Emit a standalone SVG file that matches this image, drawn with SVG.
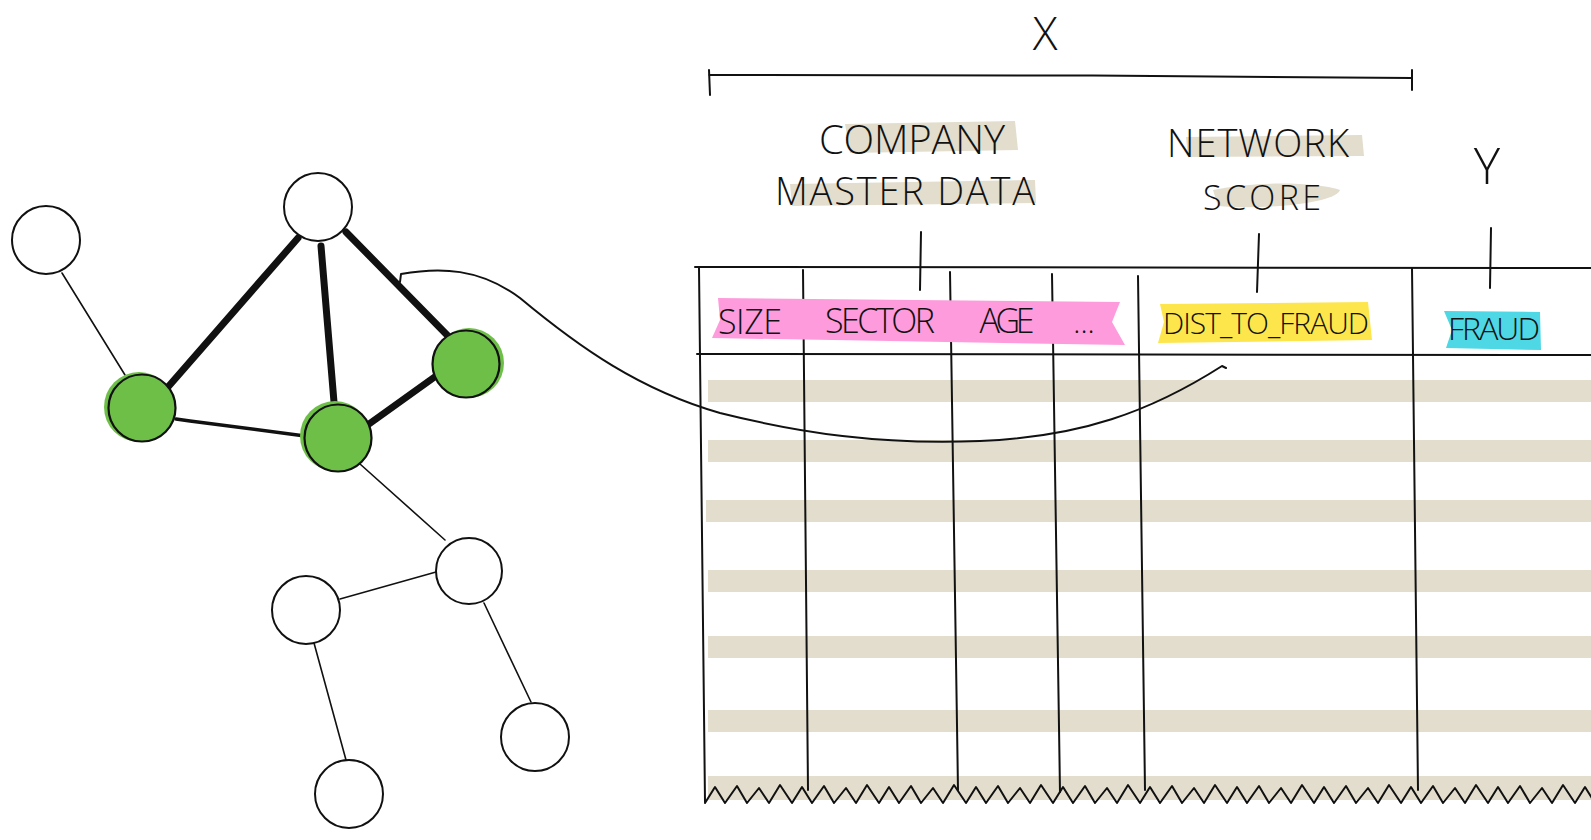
<svg xmlns="http://www.w3.org/2000/svg" width="1591" height="840" viewBox="0 0 1591 840">
<style>
.bg{fill:#ffffff}
.node{fill:#ffffff;stroke:#111;stroke-width:2}
.green{fill:#6dbf47;stroke:#111;stroke-width:2.2}
.thin{stroke:#111;stroke-width:1.6;fill:none;stroke-linecap:round}
.mid{stroke:#111;stroke-width:3.5;fill:none;stroke-linecap:round}
.thick{stroke:#111;stroke-width:7;fill:none;stroke-linecap:round}
.line{stroke:#111;stroke-width:2;fill:none;stroke-linecap:round;stroke-linejoin:round}
.stripe{fill:#e2ddcd}
.hl{fill:#e2ddcd}
.t{font-family:"Open Sans","Liberation Sans",sans-serif;font-weight:300;fill:#111}
</style>
<rect class="bg" x="0" y="0" width="1591" height="840"/>

<g id="table">
<rect class="stripe" x="708" y="380" width="883" height="22"/>
<rect class="stripe" x="708" y="440" width="883" height="22"/>
<rect class="stripe" x="706" y="500" width="885" height="22"/>
<rect class="stripe" x="708" y="570" width="883" height="22"/>
<rect class="stripe" x="708" y="636" width="883" height="22"/>
<rect class="stripe" x="708" y="710" width="883" height="22"/>
<rect class="stripe" x="708" y="776" width="883" height="24"/>
<path class="line" d="M695,267 L1591,268"/>
<path class="line" d="M697,354 L1591,355"/>
<path class="line" d="M699,268 L705,802"/>
<path class="line" d="M803,270 L808,790"/>
<path class="line" d="M950,272 L958,790"/>
<path class="line" d="M1052,274 L1060,792"/>
<path class="line" d="M1138,276 L1145,790"/>
<path class="line" d="M1412,268 L1418,790"/>
<path class="line" d="M705,803 l10,-16 10,16 12,-17 10,17 12,-15 10,15 11,-18 12,18 l10,-16 10,16 12,-17 10,17 12,-15 10,15 11,-18 12,18 l10,-16 10,16 12,-17 10,17 12,-15 10,15 11,-18 12,18 l10,-16 10,16 12,-17 10,17 12,-15 10,15 11,-18 12,18 l10,-16 10,16 12,-17 10,17 12,-15 10,15 11,-18 12,18 l10,-16 10,16 12,-17 10,17 12,-15 10,15 11,-18 12,18 l10,-16 10,16 12,-17 10,17 12,-15 10,15 11,-18 12,18 l10,-16 10,16 12,-17 10,17 12,-15 10,15 11,-18 12,18 l10,-16 10,16 12,-17 10,17 12,-15 10,15 11,-18 12,18 l10,-16 10,16 12,-17 10,17 12,-15 10,15 11,-18 12,18 l10,-16 10,16 12,-17 10,17 12,-15 10,15 11,-18 12,18"/>
</g>

<g id="connectors">
<path class="thin" d="M62,273 L125,375"/>
<path class="thick" d="M298,238 L168,387"/>
<path class="thick" d="M321,246 L334,402"/>
<path class="thick" d="M346,232 L450,338"/>
<path class="mid" d="M176,419 L190,421 L305,436"/>
<path class="thick" d="M369,424 L436,376"/>
<path class="thin" d="M360,464 L445,540"/>
<path class="thin" d="M436,572 L340,599"/>
<path class="thin" d="M484,603 L531,702"/>
<path class="thin" d="M314,643 L346,760"/>
<path class="line" d="M400,282 L401,274 C440,267 480,268 520,298 C580,348 640,390 720,413 C800,433 880,445 980,441 C1080,437 1150,412 1222,366 L1226,368"/>
</g>

<g id="graph">
<g id="n1"><circle class="node" cx="46" cy="240" r="34"/></g>
<g id="n2"><circle class="node" cx="318" cy="207" r="34"/></g>
<g id="g1"><circle cx="139" cy="407" r="35" fill="#6dbf47"/><circle class="green" cx="142" cy="408" r="33.5"/></g>
<g id="g2"><circle cx="335" cy="436" r="35" fill="#6dbf47"/><circle class="green" cx="338" cy="438" r="33.5"/></g>
<g id="g3"><circle cx="469" cy="363" r="35" fill="#6dbf47"/><circle class="green" cx="466" cy="364" r="33.5"/></g>
<g id="n3"><circle class="node" cx="469" cy="571" r="33"/></g>
<g id="n4"><circle class="node" cx="306" cy="610" r="34"/></g>
<g id="n5"><circle class="node" cx="535" cy="737" r="34"/></g>
<g id="n6"><circle class="node" cx="349" cy="794" r="34"/></g>
</g>

<g id="header-row">
<path d="M718,298 L1120,302 L1112,322 L1125,345 L712,338 L720,320 Z" fill="#fd9bdc"/>
<path d="M1160,304 L1368,302 L1372,340 L1158,343 L1164,322 Z" fill="#fde64b"/>
<path d="M1444,311 L1540,312 L1541,350 L1446,348 L1452,330 Z" fill="#4ed7e5"/>
<text class="t" x="750" y="334" font-size="34" text-anchor="middle" textLength="64">SIZE</text>
<text class="t" x="880" y="333" font-size="34" text-anchor="middle" textLength="110">SECTOR</text>
<text class="t" x="1007" y="333" font-size="34" text-anchor="middle" textLength="55">AGE</text>
<text class="t" x="1084" y="333" font-size="30" text-anchor="middle">...</text>
<text class="t" x="1266" y="334" font-size="30" text-anchor="middle" textLength="206">DIST_TO_FRAUD</text>
<text class="t" x="1494" y="340" font-size="32" text-anchor="middle" textLength="92">FRAUD</text>
</g>

<g id="labels">
<text class="t" x="1045" y="50" font-size="46" text-anchor="middle">X</text>
<path class="line" d="M709,70 L710,95 M709,75 C900,74 1200,76 1412,78 M1412,70 L1412,90"/>
<path d="M845,124 L1015,121 L1018,150 L850,153 Z" class="hl"/>
<path d="M790,184 L1035,180 L1036,203 L792,206 Z" class="hl"/>
<path d="M1186,137 L1362,135 L1364,156 L1188,157 Z" class="hl"/>
<path d="M1213,190 C1260,180 1320,183 1340,190 C1335,204 1260,210 1218,206 Z" class="hl"/>
<text class="t" x="912" y="154" font-size="40" text-anchor="middle" textLength="186">COMPANY</text>
<text class="t" x="905" y="205" font-size="38" text-anchor="middle" textLength="260">MASTER DATA</text>
<text class="t" x="1258" y="157" font-size="38" text-anchor="middle" textLength="182">NETWORK</text>
<text class="t" x="1262" y="210" font-size="34" text-anchor="middle" textLength="118">SCORE</text>
<text class="t" x="1487" y="184" font-size="50" text-anchor="middle">Y</text>
<path class="line" d="M921,232 L920,290"/>
<path class="line" d="M1259,234 L1257,292"/>
<path class="line" d="M1491,228 L1490,288"/>
</g>
</svg>
